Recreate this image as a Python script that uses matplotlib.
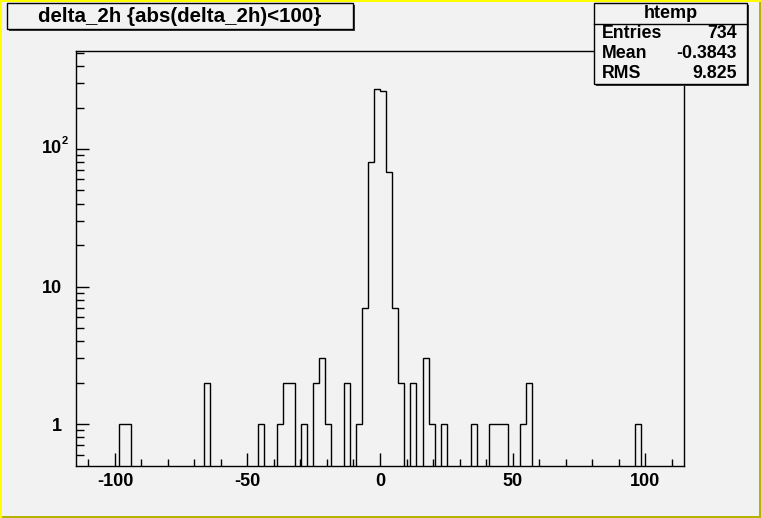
import numpy as np
import matplotlib.pyplot as plt
import matplotlib.transforms as mtransforms
from matplotlib.patches import Rectangle
from matplotlib.ticker import FixedLocator, FixedFormatter

plt.rcParams['font.family'] = ['Liberation Sans', 'DejaVu Sans']
plt.rcParams['axes.unicode_minus'] = False

# Histogram: 100 bins over [-114.7, 114.7], non-empty bins only (bin index -> count)
n_bins = 100
x_lo, x_hi = -114.7, 114.7
filled_bins = [7, 8, 21, 30, 33, 34, 35, 37, 39, 40, 41, 44, 46, 47, 48, 49, 50,
               51, 52, 53, 55, 57, 58, 60, 65, 68, 69, 70, 73, 74, 92]
filled_counts = [1, 1, 2, 1, 1, 2, 2, 1, 2, 3, 1, 2, 1, 7, 80, 272, 263,
                 68, 7, 2, 2, 3, 1, 1, 1, 1, 1, 1, 1, 2, 1]

title = "delta_2h {abs(delta_2h)<100}"
stats_name = "htemp"
stats_labels = ["Entries", "Mean", "RMS"]
stats_values = ["734", "-0.3843", "9.825"]

x_major = [-100, -50, 0, 50, 100]
x_minor = list(range(-110, 111, 10))
y_major = [1, 10, 100]
y_labels = ["1", "10", ""]   # 10^2 drawn by hand below
y_minor = [0.6, 0.7, 0.8, 0.9] + [m * 10 ** e for e in (0, 1, 2) for m in range(2, 10)]

bg = '#f2f2f2'
W, H = 761, 518

counts = np.zeros(n_bins)
counts[filled_bins] = filled_counts
edges = np.linspace(x_lo, x_hi, n_bins + 1)

fig = plt.figure(figsize=(W / 100, H / 100), dpi=100, facecolor=bg)

def px_rect(x0, y0, x1, y1, **kw):
    # rectangle given in pixel coords measured from top-left
    r = Rectangle((x0 / W, 1 - y1 / H), (x1 - x0) / W, (y1 - y0) / H,
                  transform=fig.transFigure, **kw)
    fig.add_artist(r)
    return r

# canvas border
px_rect(0, 0, 2, H, facecolor='#ffff00', edgecolor='none')
px_rect(0, 0, W, 2, facecolor='#ffff00', edgecolor='none')
px_rect(W - 2.5, 2, W, H, facecolor='#b4b400', edgecolor='none')
px_rect(2, H - 2.5, W, H, facecolor='#b4b400', edgecolor='none')

ax = fig.add_axes([76 / W, (H - 466) / H, (684 - 76) / W, (466 - 51) / H])
ax.set_facecolor(bg)
ax.set_yscale('log')
ax.stairs(counts, edges, color='black', lw=1.0)
ax.set_xlim(x_lo, x_hi)
ax.set_ylim(0.495, 516)

for s in ax.spines.values():
    s.set_linewidth(1.0)

ax.xaxis.set_major_locator(FixedLocator(x_major))
ax.xaxis.set_minor_locator(FixedLocator(x_minor))
ax.yaxis.set_major_locator(FixedLocator(y_major))
ax.yaxis.set_major_formatter(FixedFormatter(y_labels))
ax.yaxis.set_minor_locator(FixedLocator(y_minor))
ax.yaxis.set_minor_formatter(FixedFormatter([]))
ax.tick_params(axis='x', which='major', direction='in', length=9.2, width=1,
               labelsize=13, pad=5)
ax.tick_params(axis='x', which='minor', direction='in', length=5, width=1)
ax.tick_params(axis='y', which='major', direction='in', length=9.5, width=1,
               labelsize=13, pad=10)
ax.tick_params(axis='y', which='minor', direction='in', length=6, width=1)
for lab in ax.get_xticklabels() + ax.get_yticklabels():
    lab.set_fontweight('bold')

# 10^2 label: base digits aligned with the other labels, exponent sticking out
trans = mtransforms.blended_transform_factory(ax.transAxes, ax.transData)
ax.text(0, 100, "10", transform=trans + mtransforms.ScaledTranslation(-10 / 72, 0, fig.dpi_scale_trans),
        ha='right', va='center', fontsize=13, fontweight='bold')
ax.text(0, 100, "2", transform=trans + mtransforms.ScaledTranslation(-10.2 / 72, 6 / 72, fig.dpi_scale_trans),
        ha='left', va='center', fontsize=8, fontweight='bold')

# title box
px_rect(9, 5, 355, 31, facecolor='#3a3a3a', edgecolor='none')
px_rect(7, 3, 353, 29, facecolor=bg, edgecolor='black', lw=1)
fig.text(180 / W, 1 - 16 / H, title, ha='center', va='center',
         fontsize=14.8, fontweight='bold')

# stats box
px_rect(596, 5, 749, 86, facecolor='#3a3a3a', edgecolor='none')
px_rect(594, 3, 747, 84, facecolor=bg, edgecolor='black', lw=1)
fig.add_artist(plt.Line2D([594 / W, 747 / W], [1 - 24 / H, 1 - 24 / H],
                          transform=fig.transFigure, color='black', lw=1))
fig.text(670.5 / W, 1 - 13 / H, stats_name, ha='center', va='center',
         fontsize=13, fontweight='bold')
for i, (lab, val) in enumerate(zip(stats_labels, stats_values)):
    yy = 1 - (33 + 20.3 * i) / H
    fig.text(602 / W, yy, lab, ha='left', va='center', fontsize=12.8, fontweight='bold')
    fig.text(737 / W, yy, val, ha='right', va='center', fontsize=12.8, fontweight='bold')

fig.savefig('out.png', dpi=100, facecolor=bg)
